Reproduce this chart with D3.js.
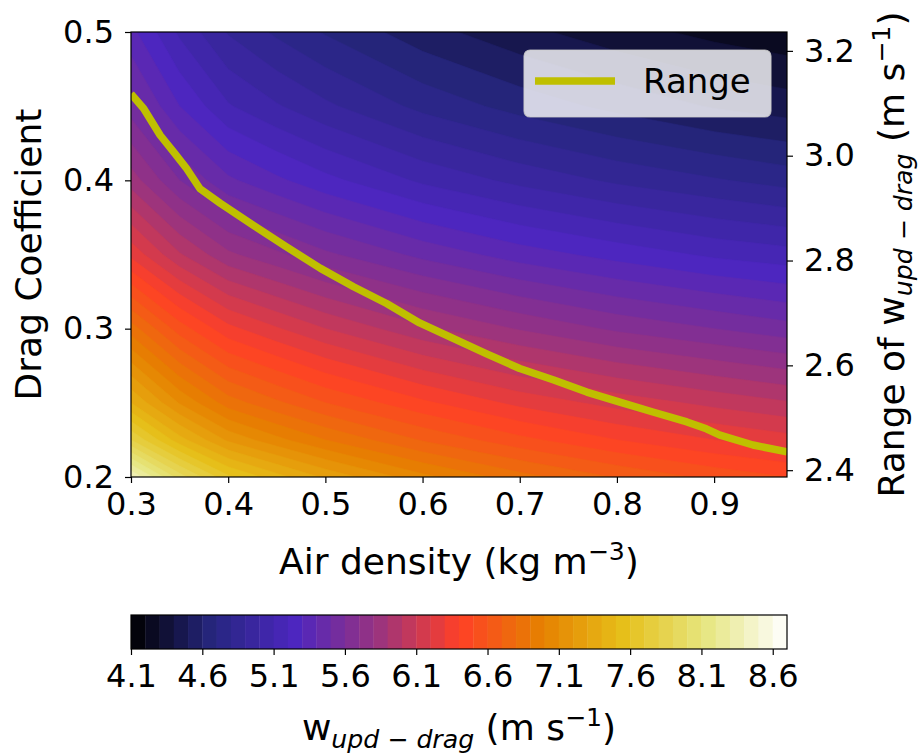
<!DOCTYPE html>
<html>
<head>
<meta charset="utf-8">
<script src="https://cdn.jsdelivr.net/npm/d3@7"></script>
<style>
  html, body { margin: 0; padding: 0; background: #ffffff; }
  svg { display: block; font-family: "DejaVu Sans", sans-serif; }
</style>
</head>
<body>
<svg id="chart" width="918" height="756"></svg>
<script>
// ---- data ---------------------------------------------------------------
// Air density (kg m^-3): columns of the field
const airDensity = [0.30, 0.35, 0.40, 0.45, 0.50, 0.60, 0.70, 0.80, 0.90, 0.975];
// Drag coefficient: rows of the field
const dragCoefficient = [0.20, 0.225, 0.25, 0.30, 0.35, 0.40, 0.45, 0.50];
// w_upd-drag (m s^-1), one row per drag coefficient, one column per air density
const wUpdDrag = [
  [8.40, 7.95, 7.62, 7.44, 7.28, 7.03, 6.84, 6.69, 6.57, 6.50],
  [7.80, 7.44, 7.18, 7.03, 6.90, 6.69, 6.53, 6.40, 6.30, 6.24],
  [7.40, 7.09, 6.85, 6.72, 6.60, 6.42, 6.27, 6.16, 6.07, 6.01],
  [6.85, 6.55, 6.33, 6.21, 6.10, 5.92, 5.79, 5.68, 5.60, 5.54],
  [6.27, 6.01, 5.82, 5.72, 5.62, 5.47, 5.35, 5.26, 5.18, 5.14],
  [5.85, 5.60, 5.42, 5.32, 5.23, 5.08, 4.97, 4.88, 4.81, 4.76],
  [5.55, 5.30, 5.11, 5.01, 4.92, 4.77, 4.66, 4.57, 4.49, 4.45],
  [5.33, 5.08, 4.89, 4.78, 4.69, 4.54, 4.43, 4.34, 4.27, 4.23]
];
// Filled contour levels (m s^-1)
const contourLevels = [
  4.1, 4.2, 4.3, 4.4, 4.5, 4.6, 4.7, 4.8, 4.9, 5.0,
  5.1, 5.2, 5.3, 5.4, 5.5, 5.6, 5.7, 5.8, 5.9, 6.0,
  6.1, 6.2, 6.3, 6.4, 6.5, 6.6, 6.7, 6.8, 6.9, 7.0,
  7.1, 7.2, 7.3, 7.4, 7.5, 7.6, 7.7, 7.8, 7.9, 8.0,
  8.1, 8.2, 8.3, 8.4, 8.5, 8.6, 8.7
];
// Range of w_upd-drag (m s^-1) against air density, on the right axis
const rangeRho = [0.300, 0.313, 0.330, 0.344, 0.357, 0.371, 0.392, 0.426, 0.460, 0.495,
                  0.529, 0.563, 0.597, 0.632, 0.666, 0.700, 0.735, 0.769, 0.803, 0.837,
                  0.872, 0.892, 0.906, 0.940, 0.975];
const rangeValues = [3.118, 3.090, 3.039, 3.007, 2.976, 2.937, 2.909, 2.867, 2.826, 2.785,
                     2.750, 2.718, 2.681, 2.651, 2.622, 2.594, 2.572, 2.549, 2.530, 2.511,
                     2.492, 2.479, 2.467, 2.448, 2.435];
// Tick values
const xTicks = [0.3, 0.4, 0.5, 0.6, 0.7, 0.8, 0.9];
const yTicks = [0.2, 0.3, 0.4, 0.5];
const rangeTicks = [2.4, 2.6, 2.8, 3.0, 3.2];
const colorbarTicks = [4.1, 4.6, 5.1, 5.6, 6.1, 6.6, 7.1, 7.6, 8.1, 8.6];

// ---- layout -------------------------------------------------------------
const plot = { left: 131, right: 787, top: 32, bottom: 477 };
const cbar = { left: 131, right: 787, top: 615, bottom: 649 };
const tickFont = 32, labelFont = 36, legendFont = 34;
const lineColor = "#bfbf00";

const svg = d3.select("#chart");

const x = d3.scaleLinear().domain([0.3, 0.975]).range([plot.left, plot.right]);
const y = d3.scaleLinear().domain([0.2, 0.5]).range([plot.bottom, plot.top]);
const yRange = d3.scaleLinear().domain([2.387, 3.236]).range([plot.bottom, plot.top]);

// CMRmap colour map
const cmrStops = [
  [0.00, 0.00, 0.00], [0.15, 0.15, 0.50], [0.30, 0.15, 0.75],
  [0.60, 0.20, 0.50], [1.00, 0.25, 0.15], [0.90, 0.50, 0.00],
  [0.90, 0.75, 0.10], [0.90, 0.90, 0.50], [1.00, 1.00, 1.00]
];
const cmr = d3.scaleLinear()
  .domain(cmrStops.map((_, i) => i / (cmrStops.length - 1)))
  .range(cmrStops.map(c => d3.rgb(c[0] * 255, c[1] * 255, c[2] * 255)))
  .interpolate(d3.interpolateRgb)
  .clamp(true);
const vmin = contourLevels[0], vmax = contourLevels[contourLevels.length - 1];
const bandColor = k => cmr(((contourLevels[k] + contourLevels[k + 1]) / 2 - vmin) / (vmax - vmin));

// ---- filled contours ----------------------------------------------------
const nx = airDensity.length, ny = dragCoefficient.length;
const gridX = d3.scaleLinear().domain(airDensity.map((_, i) => i + 0.5)).range(airDensity).clamp(true);
const gridY = d3.scaleLinear().domain(dragCoefficient.map((_, j) => j + 0.5)).range(dragCoefficient).clamp(true);
const toScreen = d3.geoTransform({
  point(px, py) { this.stream.point(x(gridX(px)), y(gridY(py))); }
});
const path = d3.geoPath(toScreen);

const bands = d3.contours()
  .size([nx, ny])
  .thresholds(contourLevels.slice(0, -1))(wUpdDrag.flat());

svg.append("clipPath").attr("id", "plot-clip")
  .append("rect")
  .attr("x", plot.left).attr("y", plot.top)
  .attr("width", plot.right - plot.left).attr("height", plot.bottom - plot.top);

const field = svg.append("g").attr("clip-path", "url(#plot-clip)");
field.append("rect")
  .attr("x", plot.left).attr("y", plot.top)
  .attr("width", plot.right - plot.left).attr("height", plot.bottom - plot.top)
  .attr("fill", bandColor(0));
field.selectAll("path.band")
  .data(bands)
  .join("path")
  .attr("class", "band")
  .attr("d", path)
  .attr("fill", (d, k) => bandColor(k))
  .attr("stroke", (d, k) => bandColor(k))
  .attr("stroke-width", 0.6);

// ---- range line ---------------------------------------------------------
const rangeLine = d3.line()
  .x((d, i) => x(rangeRho[i]))
  .y(d => yRange(d));
field.append("path")
  .datum(rangeValues)
  .attr("d", rangeLine)
  .attr("fill", "none")
  .attr("stroke", lineColor)
  .attr("stroke-width", 7.5)
  .attr("stroke-linejoin", "round");

// ---- axes ---------------------------------------------------------------
function styleAxis(g) {
  g.select(".domain").remove();
  g.selectAll(".tick line").attr("stroke", "#000").attr("stroke-width", 1.2);
  g.selectAll(".tick text")
    .attr("fill", "#000")
    .style("font-size", tickFont + "px")
    .style("font-family", "'DejaVu Sans', sans-serif");
}

svg.append("g")
  .attr("transform", `translate(0,${plot.bottom})`)
  .call(d3.axisBottom(x).tickValues(xTicks).tickFormat(d3.format(".1f")).tickSize(6).tickPadding(9))
  .call(styleAxis);

svg.append("g")
  .attr("transform", `translate(${plot.left},0)`)
  .call(d3.axisLeft(y).tickValues(yTicks).tickFormat(d3.format(".1f")).tickSize(6).tickPadding(11))
  .call(styleAxis);

svg.append("g")
  .attr("transform", `translate(${plot.right},0)`)
  .call(d3.axisRight(yRange).tickValues(rangeTicks).tickFormat(d3.format(".1f")).tickSize(6).tickPadding(11))
  .call(styleAxis);

svg.append("rect")
  .attr("x", plot.left).attr("y", plot.top)
  .attr("width", plot.right - plot.left).attr("height", plot.bottom - plot.top)
  .attr("fill", "none").attr("stroke", "#000").attr("stroke-width", 1.2);

// ---- legend -------------------------------------------------------------
const legend = svg.append("g");
legend.append("rect")
  .attr("x", 524).attr("y", 50).attr("width", 247).attr("height", 67).attr("rx", 6)
  .attr("fill", "#ffffff").attr("fill-opacity", 0.8)
  .attr("stroke", "#cccccc").attr("stroke-opacity", 0.8).attr("stroke-width", 1.2);
legend.append("line")
  .attr("x1", 535).attr("x2", 615).attr("y1", 81).attr("y2", 81)
  .attr("stroke", lineColor).attr("stroke-width", 7.5);
legend.append("text")
  .attr("x", 643).attr("y", 93)
  .style("font-size", legendFont + "px")
  .text("Range");

// ---- labels with sub/superscripts ---------------------------------------
function addLabel(parent, parts, attrs) {
  const t = parent.append("text")
    .style("font-size", labelFont + "px")
    .attr("text-anchor", "middle");
  Object.entries(attrs).forEach(([k, v]) => t.attr(k, v));
  let shift = 0;
  parts.forEach(p => {
    const s = t.append("tspan").text(p.text);
    const target = p.sub ? 8 : p.sup ? -14 : 0;
    if (target !== shift) { s.attr("dy", target - shift); shift = target; }
    if (p.sub || p.sup) s.style("font-size", (labelFont * 0.7) + "px");
    if (p.italic) s.style("font-style", "italic");
  });
  return t;
}

addLabel(svg, [
  { text: "Air density (kg m" }, { text: "\u22123", sup: true }, { text: ")" }
], { x: (plot.left + plot.right) / 2, y: 574 });

addLabel(svg, [{ text: "Drag Coefficient" }],
  { transform: `translate(41,${(plot.top + plot.bottom) / 2}) rotate(-90)` });

addLabel(svg, [
  { text: "Range of w" }, { text: "upd \u2212 drag", sub: true, italic: true },
  { text: " (m s" }, { text: "\u22121", sup: true }, { text: ")" }
], { transform: `translate(904,${(plot.top + plot.bottom) / 2}) rotate(-90)` });

// ---- colorbar -----------------------------------------------------------
const cb = d3.scaleLinear().domain([vmin, vmax]).range([cbar.left, cbar.right]);
svg.append("g").selectAll("rect")
  .data(contourLevels.slice(0, -1))
  .join("rect")
  .attr("x", (d, k) => cb(contourLevels[k]))
  .attr("width", (d, k) => cb(contourLevels[k + 1]) - cb(contourLevels[k]) + 0.4)
  .attr("y", cbar.top).attr("height", cbar.bottom - cbar.top)
  .attr("fill", (d, k) => bandColor(k));
svg.append("rect")
  .attr("x", cbar.left).attr("y", cbar.top)
  .attr("width", cbar.right - cbar.left).attr("height", cbar.bottom - cbar.top)
  .attr("fill", "none").attr("stroke", "#000").attr("stroke-width", 1.2);
svg.append("g")
  .attr("transform", `translate(0,${cbar.bottom})`)
  .call(d3.axisBottom(cb).tickValues(colorbarTicks).tickFormat(d3.format(".1f")).tickSize(6).tickPadding(9))
  .call(styleAxis);

addLabel(svg, [
  { text: "w" }, { text: "upd \u2212 drag", sub: true, italic: true },
  { text: " (m s" }, { text: "\u22121", sup: true }, { text: ")" }
], { x: (cbar.left + cbar.right) / 2, y: 740 });
</script>
</body>
</html>
